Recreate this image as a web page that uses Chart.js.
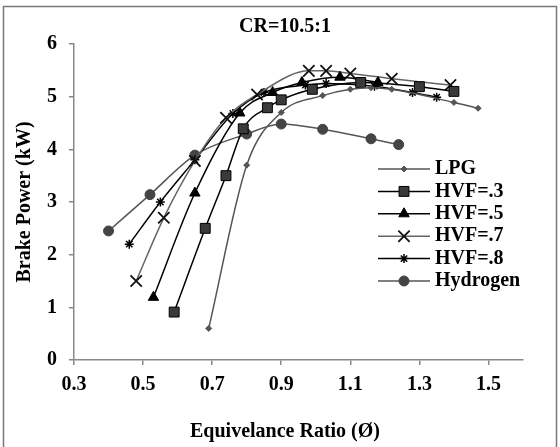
<!DOCTYPE html>
<html>
<head>
<meta charset="utf-8">
<script src="https://cdn.jsdelivr.net/npm/chart.js@4.4.1/dist/chart.umd.min.js"></script>
<style>
body { margin: 0; background: #fff; }
#wrap { width: 560px; height: 447px; }
</style>
</head>
<body>
<div id="wrap"><canvas id="chart"></canvas></div>
<script>
// Axis ticks
const xTicks = [0.3, 0.5, 0.7, 0.9, 1.1, 1.3, 1.5];
const yTicks = [0, 1, 2, 3, 4, 5, 6];

// Series: equivalence ratio vs brake power (kW)
const lpgPhi = [0.69, 0.80, 0.90, 1.02, 1.10, 1.16, 1.22, 1.40, 1.47];
const lpgPower = [0.6, 3.7, 4.7, 5.02, 5.14, 5.17, 5.14, 4.89, 4.78];

const hvf3Phi = [0.59, 0.68, 0.74, 0.79, 0.86, 0.90, 0.99, 1.13, 1.30, 1.40];
const hvf3Power = [0.91, 2.5, 3.5, 4.39, 4.79, 4.94, 5.14, 5.27, 5.19, 5.1];

const hvf5Phi = [0.53, 0.65, 0.78, 0.875, 0.96, 1.07, 1.18];
const hvf5Power = [1.19, 3.17, 4.69, 5.08, 5.27, 5.37, 5.27];

const hvf7Phi = [0.48, 0.56, 0.65, 0.74, 0.83, 0.98, 1.03, 1.10, 1.22, 1.39];
const hvf7Power = [1.5, 2.7, 3.78, 4.6, 5.04, 5.49, 5.49, 5.44, 5.34, 5.22];

const hvf8Phi = [0.46, 0.55, 0.65, 0.76, 0.85, 0.97, 1.03, 1.17, 1.28, 1.35];
const hvf8Power = [2.2, 3.0, 3.8, 4.68, 5.08, 5.22, 5.25, 5.2, 5.08, 4.99];

const h2Phi = [0.40, 0.52, 0.65, 0.80, 0.90, 1.02, 1.16, 1.24];
const h2Power = [2.45, 3.14, 3.89, 4.29, 4.48, 4.38, 4.2, 4.09];

const toPoints = (xs, ys) => xs.map((x, i) => ({ x: x, y: ys[i] }));
const FONT = 'Liberation Serif';

// Legend drawn inside the plot (line sample + marker + label)
const plotLegend = {
    id: 'plotLegend',
    afterDatasetsDraw(chart) {
        const ctx = chart.ctx;
        ctx.save();
        ctx.font = 'bold 20px "' + FONT + '"';
        ctx.textBaseline = 'middle';
        chart.data.datasets.forEach((ds, i) => {
            const y = 169 + i * 22.4;
            ctx.strokeStyle = ds.borderColor;
            ctx.lineWidth = ds.borderWidth;
            ctx.beginPath();
            ctx.moveTo(378, y);
            ctx.lineTo(430, y);
            ctx.stroke();
            ctx.fillStyle = ds.pointBackgroundColor;
            ctx.strokeStyle = ds.pointBorderColor;
            ctx.lineWidth = ds.pointBorderWidth;
            Chart.helpers.drawPoint(ctx, {
                pointStyle: ds.pointStyle,
                radius: ds.pointRadius,
                rotation: 0,
                borderWidth: ds.pointBorderWidth
            }, 404, y);
            ctx.fillStyle = '#000';
            ctx.fillText(ds.label, 435, y);
        });
        ctx.restore();
    }
};

// Outer frame and white background
const frame = {
    id: 'frame',
    beforeDraw(chart) {
        const ctx = chart.ctx;
        ctx.save();
        ctx.fillStyle = '#fff';
        ctx.fillRect(0, 0, chart.width, chart.height);
        ctx.strokeStyle = '#777';
        ctx.lineWidth = 1.5;
        ctx.strokeRect(3.5, 6.5, 553, 445);
        ctx.restore();
    }
};

function series(label, xs, ys, line, style, radius, fill, border, bw) {
    return {
        label: label,
        data: toPoints(xs, ys),
        borderColor: line,
        borderWidth: 1.5,
        pointStyle: style,
        pointRadius: radius,
        pointHoverRadius: radius,
        pointBackgroundColor: fill,
        pointBorderColor: border,
        pointBorderWidth: bw,
        cubicInterpolationMode: 'monotone',
        fill: false
    };
}

new Chart(document.getElementById('chart'), {
    type: 'line',
    data: {
        datasets: [
            series('LPG', lpgPhi, lpgPower, '#555', 'rectRot', 3, '#555', '#555', 1),
            series('HVF=.3', hvf3Phi, hvf3Power, '#000', 'rect', 7, '#3a3a3a', '#000', 1),
            series('HVF=.5', hvf5Phi, hvf5Power, '#000', 'triangle', 6, '#000', '#000', 1),
            series('HVF=.7', hvf7Phi, hvf7Power, '#666', 'crossRot', 8, '#000', '#111', 1.8),
            series('HVF=.8', hvf8Phi, hvf8Power, '#000', 'star', 4.5, '#000', '#000', 1.5),
            series('Hydrogen', h2Phi, h2Power, '#555', 'circle', 5, '#444', '#444', 1)
        ]
    },
    options: {
        responsive: true,
        maintainAspectRatio: false,
        animation: false,
        layout: { padding: { left: 10, right: 0, top: 0, bottom: 0 } },
        plugins: {
            legend: { display: false },
            tooltip: { enabled: false },
            title: {
                display: true,
                text: 'CR=10.5:1',
                color: '#000',
                font: { family: FONT, size: 20, weight: 'bold' },
                padding: { top: 15, bottom: 5 }
            },
            subtitle: {
                display: true,
                position: 'bottom',
                text: 'Equivelance Ratio (Ø)',
                color: '#000',
                font: { family: FONT, size: 20, weight: 'bold' },
                padding: { top: 23, bottom: 3 }
            }
        },
        scales: {
            x: {
                type: 'linear',
                min: 0.3,
                max: 1.6,
                afterBuildTicks: (scale) => { scale.ticks = xTicks.map(v => ({ value: v })); },
                afterFit: (scale) => { scale.height = 37; },
                ticks: {
                    color: '#000',
                    padding: 8,
                    maxRotation: 0,
                    font: { family: FONT, size: 20, weight: 'bold' },
                    callback: (v) => Number(v).toFixed(1)
                },
                grid: { drawOnChartArea: false, drawTicks: true, tickLength: 5, color: '#888', lineWidth: 1.5 },
                border: { display: true, color: '#888', width: 1.5 }
            },
            y: {
                type: 'linear',
                min: 0,
                max: 6,
                afterBuildTicks: (scale) => { scale.ticks = yTicks.map(v => ({ value: v })); },
                afterFit: (scale) => { scale.width = 64; },
                ticks: {
                    color: '#000',
                    padding: 12,
                    font: { family: FONT, size: 20, weight: 'bold' }
                },
                grid: { drawOnChartArea: false, drawTicks: true, tickLength: 5, color: '#888', lineWidth: 1.5 },
                border: { display: true, color: '#888', width: 1.5 },
                title: {
                    display: true,
                    text: 'Brake Power (kW)',
                    color: '#000',
                    font: { family: FONT, size: 20, weight: 'bold' },
                    padding: { top: 3, bottom: 0 }
                }
            },
            // empty right-hand margin so the plot ends at the same place as the original
            yRight: {
                type: 'linear',
                position: 'right',
                afterFit: (scale) => { scale.width = 37; },
                ticks: { display: false },
                grid: { display: false },
                border: { display: false }
            }
        }
    },
    plugins: [frame, plotLegend]
});
</script>
</body>
</html>
